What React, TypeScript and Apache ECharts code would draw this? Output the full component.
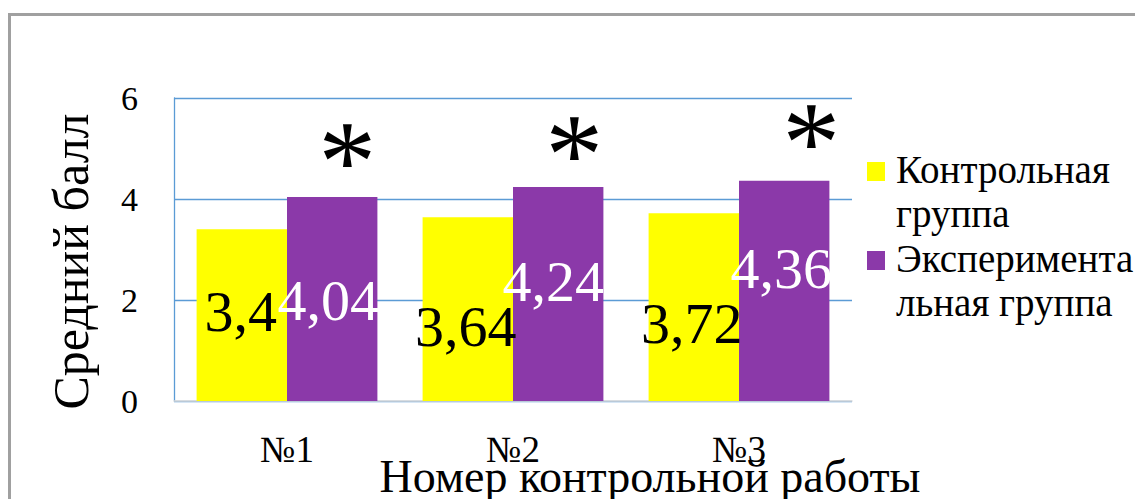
import React, { useEffect, useRef } from "react";
import * as echarts from "echarts";

// Test numbers and mean scores of the two groups
const categories = ["№1", "№2", "№3"];
const controlScores = [3.4, 3.64, 3.72];
const experimentScores = [4.04, 4.24, 4.36];
const significanceMarks = ["*", "*", "*"];
const seriesNames = ["Контрольная группа", "Экспериментальная группа"];
const legendLines: Record<string, string> = {
  "Контрольная группа": "Контрольная\nгруппа",
  "Экспериментальная группа": "Эксперимента\nльная группа",
};
const yMin = 0;
const yMax = 6;
const yStep = 2;

// Hand-placed value label nudges [dx, dy] in pixels
const controlLabelShift = [
  [-1, -4],
  [-2, 17],
  [-2, 16],
];
const experimentLabelShift = [
  [-4, 2],
  [-5, -12],
  [-3, -22],
];
const markShift = [
  [15, 23],
  [16, 26],
  [27, 20],
];

const SERIF = "Liberation Serif";
const YELLOW = "#FFFF00";
const PURPLE = "#8B39A9";
const GRID_BLUE = "#5B9BD5";

// Legend swatch: a square next to the first text line of a two-line entry
// (the two tiny strokes only stretch the icon box to the full entry height)
const LEGEND_ICON = "path://M0,15H18V34H0Z M0,0L0.01,0 M0,89L0.01,89";

const fmt = (v: number) => String(v).replace(".", ",");

export default function App() {
  const ref = useRef<HTMLDivElement>(null);

  useEffect(() => {
    const el = ref.current;
    if (!el) return;
    const chart = echarts.init(el, undefined, { renderer: "svg" });

    const controlData = controlScores.map((v, i) => ({
      value: v,
      label: { offset: controlLabelShift[i] },
    }));
    const experimentData = experimentScores.map((v, i) => ({
      value: v,
      label: { offset: experimentLabelShift[i] },
    }));
    const markData = significanceMarks.map((m, i) => ({
      value: 0,
      name: m,
      label: { offset: markShift[i] },
    }));

    chart.setOption({
      animation: false,
      backgroundColor: "#ffffff",
      textStyle: { fontFamily: SERIF },
      graphic: [
        {
          type: "rect",
          silent: true,
          z: -10,
          shape: { x: 9.5, y: 14.5, width: 1400, height: 800 },
          style: { fill: "none", stroke: "#A0A0A0", lineWidth: 3 },
        },
      ],
      grid: {
        left: 174,
        top: 98,
        right: 283,
        bottom: 98,
        containLabel: false,
        outerBoundsMode: "none",
      },
      legend: {
        orient: "vertical",
        left: 867,
        top: 147,
        padding: 0,
        data: seriesNames,
        itemWidth: 18,
        itemHeight: 89,
        itemGap: 0,
        icon: LEGEND_ICON,
        symbolKeepAspect: false,
        selectedMode: false,
        formatter: (name: string) => legendLines[name] ?? name,
        textStyle: {
          fontFamily: SERIF,
          fontSize: 39,
          lineHeight: 44.5,
          color: "#000",
          padding: [0, 0, 0, 6],
        },
      },
      xAxis: {
        type: "category",
        data: categories,
        axisTick: { show: false },
        axisLine: { lineStyle: { color: "#D9D9D9", width: 1.5 } },
        axisLabel: { color: "#000", fontSize: 37, fontFamily: SERIF, margin: 30 },
        name: "Номер контрольной работы",
        nameLocation: "middle",
        nameGap: 52,
        nameMoveOverlap: false,
        nameTextStyle: {
          color: "#000",
          fontSize: 46,
          fontFamily: SERIF,
          padding: [0, 0, 0, 274],
        },
      },
      yAxis: {
        type: "value",
        min: yMin,
        max: yMax,
        interval: yStep,
        axisLine: { show: true, lineStyle: { color: GRID_BLUE, width: 1.3 } },
        axisTick: { show: false },
        splitLine: { lineStyle: { color: GRID_BLUE, width: 1.3 } },
        axisLabel: { color: "#000", fontSize: 34, fontFamily: SERIF, margin: 36 },
        name: "Средний балл",
        nameLocation: "middle",
        nameGap: 78,
        nameMoveOverlap: false,
        nameTextStyle: {
          color: "#000",
          fontSize: 50,
          fontFamily: SERIF,
          padding: [0, 24, 0, 0],
        },
      },
      series: [
        {
          name: seriesNames[0],
          type: "bar",
          data: controlData,
          barGap: "0%",
          barCategoryGap: "20%",
          itemStyle: { color: YELLOW },
          label: {
            show: true,
            position: "inside",
            color: "#000",
            fontSize: 58,
            fontFamily: SERIF,
            formatter: (p: any) => fmt(p.value),
          },
        },
        {
          name: seriesNames[1],
          type: "bar",
          stack: "exp",
          data: experimentData,
          barGap: "0%",
          barCategoryGap: "20%",
          itemStyle: { color: PURPLE },
          label: {
            show: true,
            position: "inside",
            color: "#fff",
            fontSize: 58,
            fontFamily: SERIF,
            formatter: (p: any) => fmt(p.value),
          },
        },
        {
          name: "significance",
          type: "bar",
          stack: "exp",
          data: markData,
          itemStyle: { color: "transparent" },
          label: {
            show: true,
            position: "top",
            distance: 0,
            color: "#000",
            fontSize: 116,
            fontFamily: SERIF,
            formatter: (p: any) => p.name,
          },
        },
      ],
    });

    return () => chart.dispose();
  }, []);

  return (
    <div
      ref={ref}
      style={{ position: "fixed", left: 0, top: 0, width: 1135, height: 499 }}
    />
  );
}
